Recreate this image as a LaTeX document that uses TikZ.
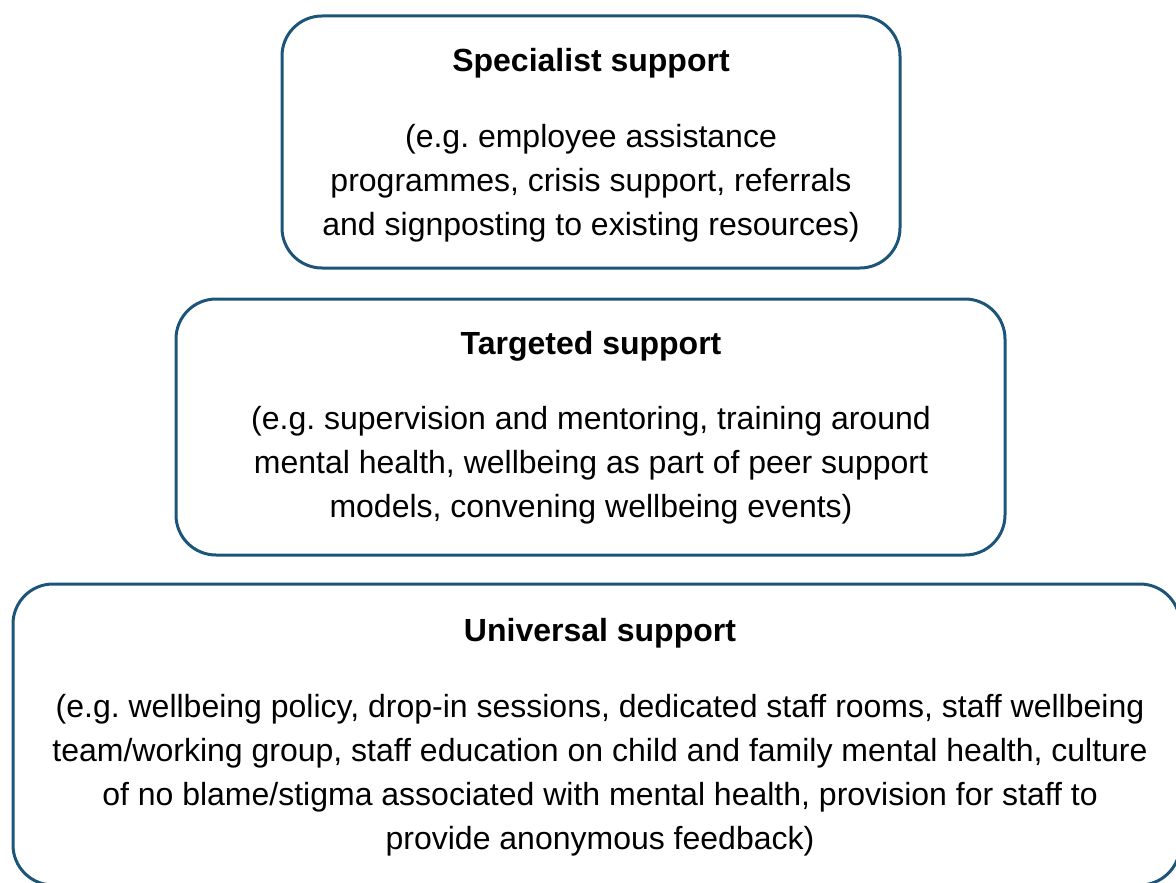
\documentclass[tikz,border=0pt]{standalone}
\usepackage{fontspec}
\setmainfont[Ligatures=NoCommon]{Liberation Sans}
\frenchspacing
\definecolor{boxblue}{RGB}{28,84,122}
\begin{document}
\begin{tikzpicture}[x=1pt,y=-1pt,
  box/.style={draw=boxblue, line width=3pt, rounded corners=40pt, inner sep=0pt},
  head/.style={font=\fontsize{32}{38}\selectfont\bfseries, inner sep=0pt, anchor=base},
  body/.style={font=\fontsize{32}{44}\selectfont, align=center, inner sep=0pt, anchor=north}]
\useasboundingbox (0,0) rectangle (1176,883);
\clip (0,0) rectangle (1176,883);
\node[box, minimum width=618pt, minimum height=252pt] (spec) at (591,142) {};
\node[box, minimum width=829pt, minimum height=256pt] (targ) at (590.5,427) {};
\node[box, minimum width=1167pt, minimum height=301pt] (univ) at (596.5,734.5) {};
\node[head] (spech) at (591,71) {Specialist support};
\node[head] (targh) at (591,354) {Targeted support};
\node[head] (univh) at (600,641) {Universal support};
\node[body] (specb) at (591,124.5) {(e.g. employee assistance\\programmes, crisis support, referrals\\and signposting to existing resources)};
\node[body] (targb) at (591,406.5) {(e.g. supervision and mentoring, training around\\mental health, wellbeing as part of peer support\\models, convening wellbeing events)};
\node[body] (univb) at (600,694.5) {(e.g. wellbeing policy, drop-in sessions, dedicated staff rooms, staff wellbeing\\team/working group, staff education on child and family mental health, culture\\of no blame/stigma associated with mental health, provision for staff to\\provide anonymous feedback)};
\end{tikzpicture}
\end{document}
